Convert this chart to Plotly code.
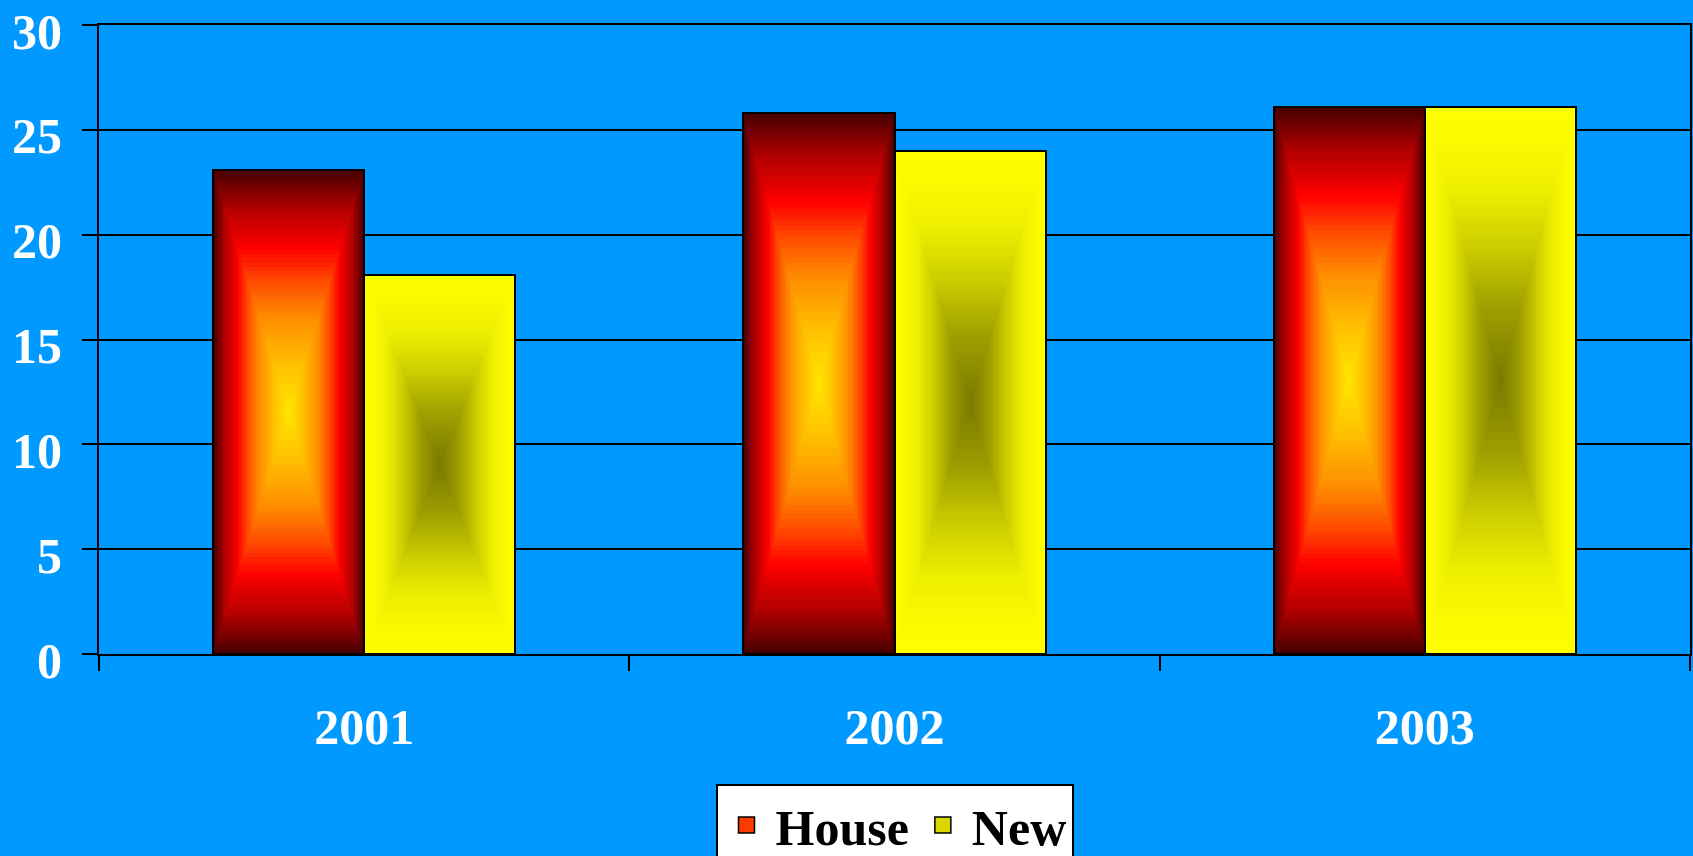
import plotly.graph_objects as go

# ---- data ----
years = ['2001', '2002', '2003']
house = [23.1, 25.8, 26.1]
new = [18.1, 24.0, 26.1]
y_ticks = [0, 5, 10, 15, 20, 25, 30]
series_names = ['House', 'New']

# gradient stops: position 0 = bar centre, 1 = bar edge
house_stops = [(0.0, (255, 232, 0)), (0.2, (255, 192, 0)), (0.4, (255, 140, 0)),
               (0.55, (255, 74, 0)), (0.68, (255, 0, 0)), (0.85, (176, 0, 0)),
               (1.0, (74, 0, 0))]
new_stops = [(0.0, (120, 120, 0)), (0.28, (160, 160, 0)), (0.49, (204, 204, 0)),
             (0.7, (238, 238, 0)), (0.85, (248, 248, 0)), (1.0, (255, 255, 0))]


def interp(stops, t):
    for (p0, c0), (p1, c1) in zip(stops[:-1], stops[1:]):
        if p0 <= t <= p1:
            a = (t - p0) / (p1 - p0) if p1 > p0 else 0
            c = [round(c0[i] + (c1[i] - c0[i]) * a) for i in range(3)]
            return 'rgb(%d,%d,%d)' % tuple(c)
    c = stops[-1][1] if t > stops[-1][0] else stops[0][1]
    return 'rgb(%d,%d,%d)' % tuple(c)


BAR_W = 0.285
N = 60
fig = go.Figure()

for name, vals, stops, centre in [(series_names[0], house, house_stops, -BAR_W / 2),
                                  (series_names[1], new, new_stops, BAR_W / 2)]:
    for k in range(N):
        f = 1 - k / N
        fig.add_bar(
            x=years, y=[v * f for v in vals], base=[v * (1 - f) / 2 for v in vals],
            width=BAR_W * f, offset=centre - BAR_W * f / 2,
            marker=dict(color=interp(stops, f), line=dict(width=0)),
            showlegend=False, hoverinfo='skip', name=name)
    # outline
    fig.add_bar(
        x=years, y=vals, width=BAR_W, offset=centre - BAR_W / 2,
        marker=dict(color='rgba(0,0,0,0)', line=dict(width=2, color='black')),
        showlegend=False, name=name, hovertemplate=name + ' %{x}: %{y}<extra></extra>')

# legend entries
for name, col in [(series_names[0], '#FF3A00'), (series_names[1], '#D8D800')]:
    fig.add_scatter(x=[None], y=[None], mode='markers', name=name,
                    marker=dict(symbol='square', size=16, color=col,
                                line=dict(width=1.5, color='black')))

fig.update_layout(
    width=1693, height=856,
    paper_bgcolor='#0099FF', plot_bgcolor='#0099FF',
    margin=dict(l=99, r=3, t=25, b=202, pad=0, autoexpand=False),
    barmode='overlay', bargap=0,
    font=dict(family='Liberation Serif', size=50, color='white', weight='bold'),
    showlegend=True,
    legend=dict(orientation='h', x=0.5, xanchor='center', xref='paper',
                y=1 - 784 / 856, yanchor='top', yref='container',
                bgcolor='white', bordercolor='black', borderwidth=2,
                font=dict(family='Liberation Serif', size=50, color='black', weight='bold'),
                itemwidth=48),
    xaxis=dict(type='category', categoryorder='array', categoryarray=years,
               tickson='boundaries', ticks='outside', ticklen=15, tickwidth=2,
               tickcolor='black', showline=True, linecolor='black', linewidth=2,
               mirror=True, showgrid=False, range=[-0.5, 2.5], automargin=False,
               tickfont=dict(family='Liberation Serif', size=50, color='white', weight='bold'),
               ticklabelstandoff=28),
    yaxis=dict(range=[0, 30], tickvals=y_ticks, ticks='outside', ticklen=15, tickwidth=2,
               tickcolor='black', showline=True, linecolor='black', linewidth=2,
               mirror=True, showgrid=True, gridcolor='black', gridwidth=2,
               zeroline=False, ticklabeloverflow='allow', automargin=False,
               tickfont=dict(family='Liberation Serif', size=50, color='white', weight='bold'),
               ticklabelstandoff=10, ticklabelshift=6),
)

fig.write_html('out.html')
